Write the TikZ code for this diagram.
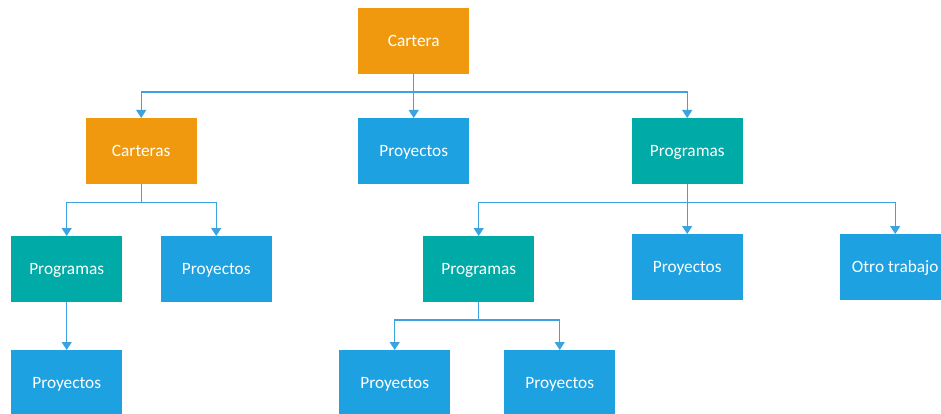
\documentclass[tikz,border=0pt]{standalone}
\usepackage{fontspec}
\setmainfont{Carlito}
\usetikzlibrary{arrows.meta}
\definecolor{corange}{RGB}{240,153,15}
\definecolor{cblue}{RGB}{29,161,224}
\definecolor{cteal}{RGB}{0,170,166}
\definecolor{cline}{RGB}{60,163,225}
\tikzset{
  box/.style={rectangle, minimum width=111pt, minimum height=66pt, inner sep=0pt,
    text height=11.5pt, text depth=0pt,
    text=white, font=\fontsize{17.3}{20}\selectfont, anchor=north west},
  orangebox/.style={box, fill=corange},
  bluebox/.style={box, fill=cblue},
  tealbox/.style={box, fill=cteal},
  conn/.style={draw=cline, line width=1.2pt, -{Triangle[width=10pt,length=8pt]}}
}
\begin{document}
\begin{tikzpicture}[x=1pt,y=-1pt]
\useasboundingbox (0,0) rectangle (941,414);
\clip (0,0) rectangle (941,414);
% row 1
\node[orangebox] (cartera) at (358,8) {Cartera};
% row 2
\node[orangebox] (carteras) at (85.5,118) {Carteras};
\node[bluebox] (proy1) at (358,118) {Proyectos};
\node[tealbox] (prog1) at (631.5,118) {Programas};
% row 3
\node[tealbox] (prog2) at (11,236) {Programas};
\node[bluebox] (proy2) at (160.5,236) {Proyectos};
\node[tealbox] (prog3) at (423,236) {Programas};
\node[bluebox] (proy3) at (631.5,234) {Proyectos};
\node[bluebox] (otro) at (839.5,234) {Otro trabajo};
% row 4
\node[bluebox] (proy4) at (11,350) {Proyectos};
\node[bluebox] (proy5) at (339,350) {Proyectos};
\node[bluebox] (proy6) at (504,350) {Proyectos};
% connectors
\coordinate (h1) at (0,92);
\coordinate (h2) at (0,202.3);
\coordinate (h3) at (0,320);
\draw[conn] (cartera.south) -- (cartera.south |- h1) -| (carteras.north);
\draw[conn] (cartera.south) -- (proy1.north);
\draw[conn] (cartera.south) -- (cartera.south |- h1) -| (prog1.north);
\draw[conn] (carteras.south) -- (carteras.south |- h2) -| (prog2.north);
\draw[conn] (carteras.south) -- (carteras.south |- h2) -| (proy2.north);
\draw[conn] (prog1.south) -- (prog1.south |- h2) -| (prog3.north);
\draw[conn] (prog1.south) -- (proy3.north);
\draw[conn] (prog1.south) -- (prog1.south |- h2) -| (otro.north);
\draw[conn] (prog2.south) -- (proy4.north);
\draw[conn] (prog3.south) -- (prog3.south |- h3) -| (proy5.north);
\draw[conn] (prog3.south) -- (prog3.south |- h3) -| (proy6.north);
\end{tikzpicture}
\end{document}
